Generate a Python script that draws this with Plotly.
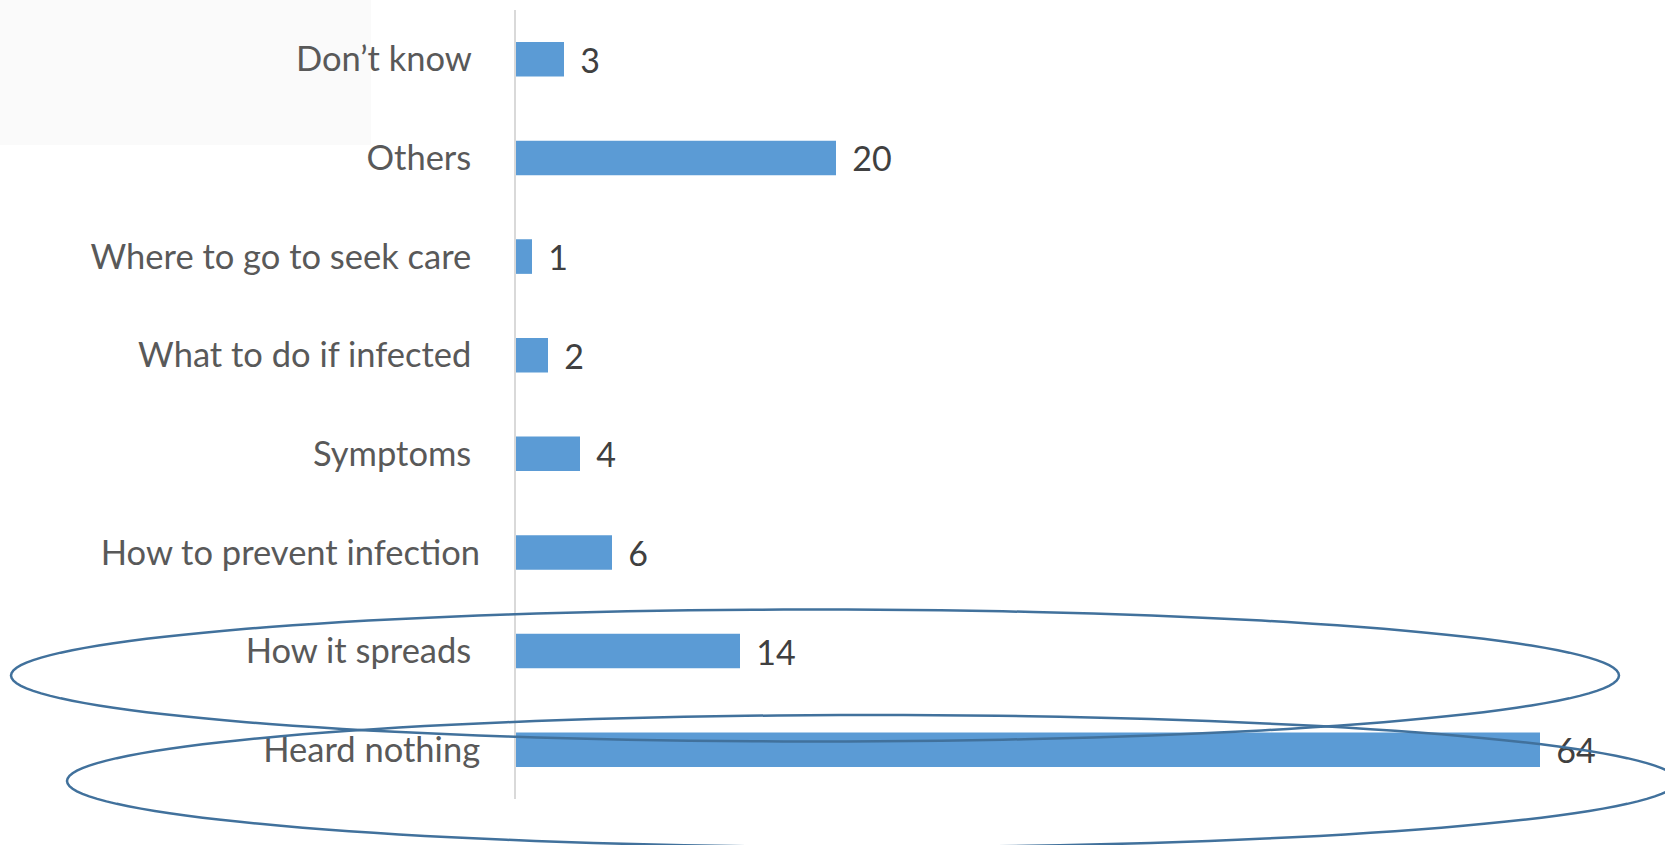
import numpy as np
import plotly.graph_objects as go

# Survey answers, listed top to bottom as they appear on the chart
categories = [
    "Don’t know",
    "Others",
    "Where to go to seek care",
    "What to do if infected",
    "Symptoms",
    "How to prevent infection",
    "How it spreads",
    "Heard nothing",
]
values = [3, 20, 1, 2, 4, 6, 14, 64]
# axis captions; most of them carry a trailing space
tick_labels = [
    "Don’t know\u00a0",
    "Others\u00a0",
    "Where to go to seek care\u00a0",
    "What to do if infected\u00a0",
    "Symptoms\u00a0",
    "How to prevent infection",
    "How it spreads\u00a0",
    "Heard nothing",
]

W, H = 1665, 845
ML, MR, MT, MB = 516, 29, 10, 46
PW, PH = W - ML - MR, H - MT - MB

FONT = "Lato, 'Open Sans', sans-serif"
BAR_BLUE = "#5B9BD5"
OUTLINE = "#41719C"


def to_paper(px, py):
    """Page pixels -> paper coordinates of the plot area."""
    return (np.asarray(px) - ML) / PW, (H - MB - np.asarray(py)) / PH


def ellipse_path(cx, cy, a, b, n=160):
    t = np.linspace(0, 2 * np.pi, n, endpoint=False)
    xs, ys = to_paper(cx + a * np.cos(t), cy + b * np.sin(t))
    pts = [f"{x:.5f},{y:.5f}" for x, y in zip(xs, ys)]
    return "M " + " L ".join(pts) + " Z"


fig = go.Figure()

fig.add_trace(go.Bar(
    x=values,
    y=categories,
    orientation="h",
    marker=dict(color=BAR_BLUE, line=dict(width=0)),
    # value labels sit a little past the end of each bar
    text=[f"<span style='font-size:26px'>\u00a0\u00a0</span>{v}" for v in values],
    textposition="outside",
    constraintext="none",
    cliponaxis=False,
    textfont=dict(family=FONT, size=34, color="#404040"),
    hoverinfo="skip",
))

# faint panel behind the top-left corner
bx0, by0 = to_paper(0, 0)
bx1, by1 = to_paper(371, 145)
shapes = [dict(
    type="rect", xref="paper", yref="paper",
    x0=bx0, y0=by1, x1=bx1, y1=by0,
    fillcolor="#FAFAFA", line=dict(width=0), layer="below",
)]

# hand-drawn highlight rings around the last two answers
for cx, cy, a, b in [(815, 675.5, 804, 66), (872, 781, 805, 66)]:
    shapes.append(dict(
        type="path", xref="paper", yref="paper",
        path=ellipse_path(cx, cy, a, b),
        line=dict(color=OUTLINE, width=2.5),
        fillcolor="rgba(0,0,0,0)", layer="above",
    ))

fig.update_layout(
    width=W, height=H,
    margin=dict(l=ML, r=MR, t=MT, b=MB, pad=0),
    paper_bgcolor="white",
    plot_bgcolor="rgba(0,0,0,0)",
    showlegend=False,
    hovermode=False,
    bargap=0.649,
    shapes=shapes,
    xaxis=dict(range=[0, 70], visible=False, fixedrange=True),
    yaxis=dict(
        type="category",
        categoryorder="array",
        categoryarray=categories,
        range=[len(categories) - 0.5, -0.5],
        tickvals=categories,
        ticktext=tick_labels,
        ticks="",
        showgrid=False,
        zeroline=False,
        showline=True,
        linecolor="#D9D9D9",
        linewidth=2,
        ticklabelstandoff=27,
        tickfont=dict(family=FONT, size=34.5, color="#595959"),
        fixedrange=True,
    ),
)

fig.write_html("out.html")
